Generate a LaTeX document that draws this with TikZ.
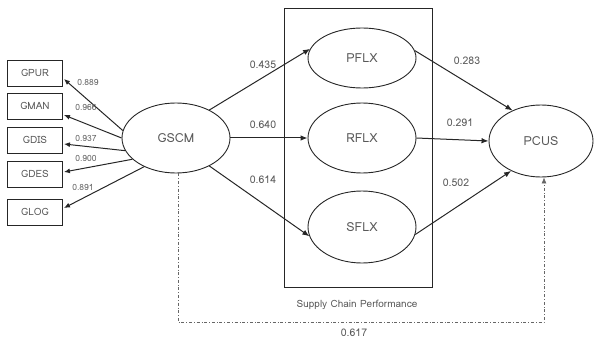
\documentclass[tikz,border=0pt]{standalone}
\usepackage{fontspec}
\newfontfamily\diagfont[Script=Thai]{Loma}
\usetikzlibrary{arrows.meta,shapes.geometric,calc}
\begin{document}
\begin{tikzpicture}[x=1pt,y=-1pt,
  font=\diagfont,
  every node/.style={inner sep=0pt},
  lat/.style={draw=black!85,line width=0.9pt,ellipse,minimum width=108pt,minimum height=#1,text=black!65,font=\diagfont\fontsize{12.5}{14}\selectfont},
  lat/.default=70pt,
  ind/.style={draw=black!85,line width=0.9pt,minimum width=55pt,minimum height=26pt,text=black!65,font=\diagfont\fontsize{10}{11}\selectfont},
  path/.style={draw=black!85,line width=1pt,-{Latex[length=7pt,width=5.5pt]}},
  load/.style={draw=black!85,line width=1pt,-{Latex[length=6pt,width=5pt]}},
  coef/.style={text=black!65,font=\diagfont\fontsize{10.5}{12}\selectfont},
  lcoef/.style={text=black!60,font=\diagfont\fontsize{8.5}{10}\selectfont},
  dotted path/.style={draw=black!60,line width=0.6pt,dash dot,-{Latex[length=6pt,width=5pt]}}
]
\useasboundingbox (0,0) rectangle (594,342);
% indicators
\node[ind] (g1) at (35,73) {GPUR};
\node[ind] (g2) at (35,106) {GMAN};
\node[ind] (g3) at (35,140) {GDIS};
\node[ind] (g4) at (35,174) {GDES};
\node[ind] (g5) at (35,212) {GLOG};
% latent
\node[lat=70pt] (gscm) at (176,138) {GSCM};
\node[draw=black!85,line width=0.9pt,minimum width=148pt,minimum height=279pt] (scp) at (358,147.5) {};
\node[lat=60pt] (pflx) at (362,58) {PFLX};
\node[lat=70pt] (rflx) at (362,138) {RFLX};
\node[lat=72pt] (sflx) at (362,227) {SFLX};
\node[lat=72pt,minimum width=104pt] (pcus) at (541,141) {PCUS};
\node[text=black!65,font=\diagfont\fontsize{10}{12}\selectfont] (scplab) at (357,305) {Supply Chain Performance};
% loadings
\draw[load] (gscm.172) -- ($(g1.east)+(1,6)$);
\draw[load] (gscm.180) -- ($(g2.east)+(1,9)$);
\draw[load] (gscm.194) -- ($(g3.east)+(1,4)$);
\draw[load] (gscm.206) -- ($(g4.east)+(1,-2)$);
\draw[load] (gscm.222) -- ($(g5.east)+(1,-4)$);
\node[lcoef] (l1) at (88,82) {0.889};
\node[lcoef] (l2) at (86,107) {0.966};
\node[lcoef] (l3) at (86,138) {0.937};
\node[lcoef] (l4) at (86,158) {0.900};
\node[lcoef] (l5) at (83,187) {0.891};
% structural paths
\draw[path] (gscm.40) -- (pflx.170);
\draw[path] (gscm.east) -- (rflx.west);
\draw[path] (gscm.-40) -- (sflx.190);
\draw[path] (pflx.8) -- (pcus.133);
\draw[path] (rflx.east) -- (pcus.west);
\draw[path] (sflx.-8) -- (pcus.225);
\node[coef] (c1) at (263,65) {0.435};
\node[coef] (c2) at (263,125) {0.640};
\node[coef] (c3) at (263,180) {0.614};
\node[coef] (c4) at (467,61) {0.283};
\node[coef] (c5) at (460,123) {0.291};
\node[coef] (c6) at (456,183) {0.502};
% direct effect
\coordinate (d1) at (178,322);
\coordinate (d2) at (544,322);
\draw[dotted path] (gscm.south -| d1) -- (d1) -- (d2) -- (pcus.south -| d2);
\node[coef] (c7) at (354,333) {0.617};
\end{tikzpicture}
\end{document}
